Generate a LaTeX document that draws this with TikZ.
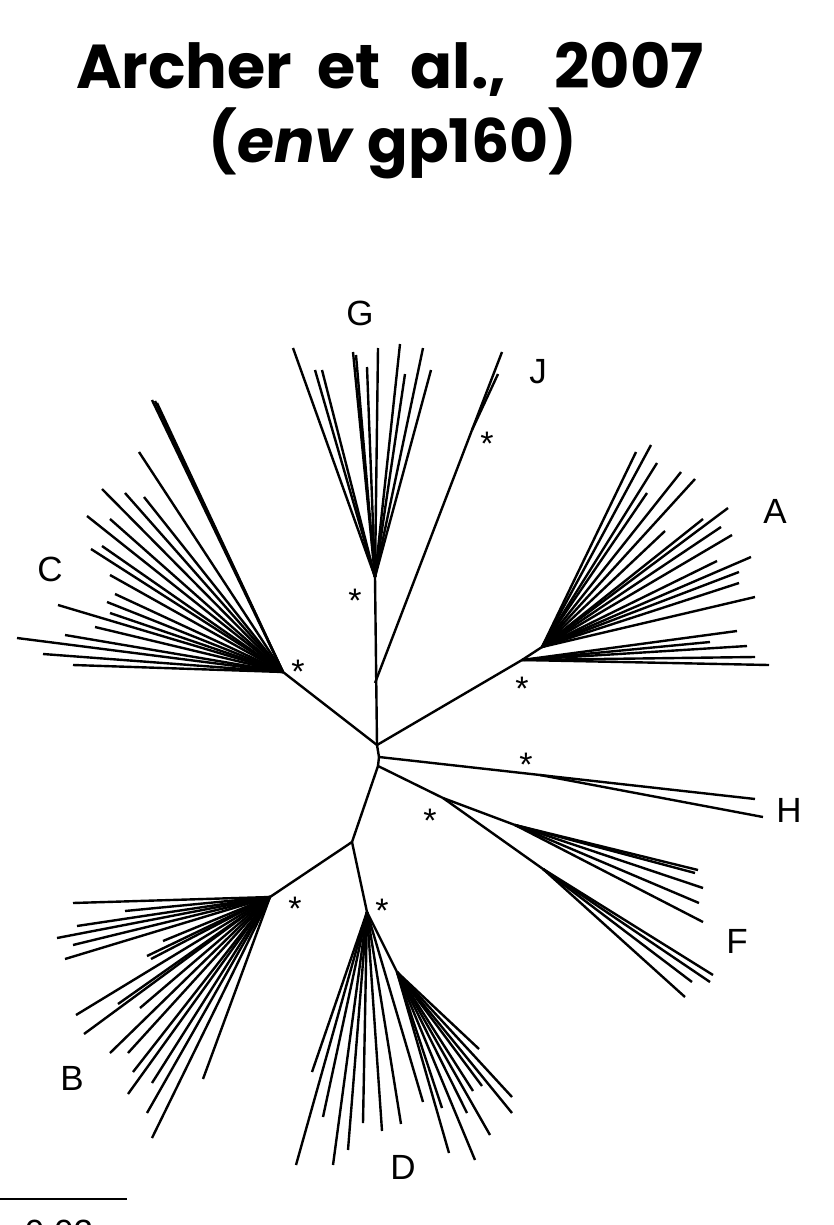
\documentclass[tikz,border=0pt]{standalone}
\usepackage{fontspec}
\setmainfont{Liberation Sans}
\newfontfamily\titlefont{Poppins}
\begin{document}
\begin{tikzpicture}[x=1pt,y=-1pt,
  br/.style={line width=2.4pt, line cap=butt, line join=round},
  lbl/.style={font=\fontsize{35}{35}\selectfont, inner sep=0pt},
  ast/.style={font=\fontsize{34}{34}\selectfont, inner sep=0pt, anchor=north},
  ttl/.style={font=\titlefont\bfseries\fontsize{60}{60}\selectfont, inner sep=0pt, anchor=base}]
\useasboundingbox (0,0) rectangle (833,1225);
\clip (0,0) rectangle (833,1225);
% title
\node[ttl, font=\titlefont\bfseries\fontsize{62}{62}\selectfont] (t1) at (390,89) {Archer\hspace{25pt}et\hspace{30pt}al.,\hspace{48pt}2007};
\node[ttl] (t2) at (393,163) {(\textit{env} gp160)};
% internal nodes
\coordinate (c0) at (377,745);
\coordinate (c1) at (379,757);
\coordinate (c2) at (378,766);
\coordinate (gn) at (375,577);
\coordinate (jn0) at (375,683);
\coordinate (jn) at (472,430);
\coordinate (cn) at (283,672);
\coordinate (an1) at (522,660);
\coordinate (an2) at (542,647);
\coordinate (hn) at (540,775);
\coordinate (fn) at (443,798);
\coordinate (fn1) at (515,825);
\coordinate (fn2) at (543,869);
\coordinate (bd) at (352,842);
\coordinate (bn) at (270,897);
\coordinate (dn) at (367,912);
\coordinate (dn2) at (397,972);
% backbone
\draw[br] (gn) -- (c0) -- (c1) -- (c2);
\draw[br] (jn0) -- (jn);
\draw[br] (c0) -- (cn);
\draw[br] (c0) -- (an1) -- (an2);
\draw[br] (c1) -- (hn);
\draw[br] (c2) -- (fn);
\draw[br] (fn) -- (fn1);
\draw[br] (fn) -- (fn2);
\draw[br] (c2) -- (bd) -- (bn);
\draw[br] (bd) -- (dn) -- (dn2);
% G leaves
\foreach \p in {(293,348),(315,370),(322,370),(353,352),(356,355),(367,367),(378,348),(400,344),(405,374),(423,348),(431,370)}
  \draw[br] (gn) -- \p;
% J leaves
\foreach \p in {(502,352),(498,374)}
  \draw[br] (jn) -- \p;
% C leaves
\foreach \p in {(152,400),(155,401),(157,403),(139,452),(102,489),(125,493),(144,497),(87,516),(110,519),(91,549),(102,546),(110,575),(58,605),(115,594),(107,602),(110,613),(95,627),(65,635),(17,638),(43,654),(73,665)}
  \draw[br] (cn) -- \p;
% A leaves
\foreach \p in {(737,631),(710,642),(747,646),(755,657),(769,665)}
  \draw[br] (an1) -- \p;
\foreach \p in {(636,452),(651,445),(657,463),(647,493),(681,472),(695,479),(665,531),(703,519),(728,508),(721,527),(732,535),(717,561),(751,557),(739,572),(739,583),(755,597)}
  \draw[br] (an2) -- \p;
% H leaves
\foreach \p in {(755,799),(763,817)}
  \draw[br] (hn) -- \p;
% F leaves
\foreach \p in {(698,870),(695,873),(703,888),(699,903),(703,922)}
  \draw[br] (fn1) -- \p;
\foreach \p in {(713,975),(710,982),(692,982),(685,997)}
  \draw[br] (fn2) -- \p;
% B leaves
\foreach \p in {(73,903),(125,911),(77,926),(57,938),(73,945),(65,959),(163,941),(147,956),(151,959),(76,1015),(84,1034),(118,1004),(140,1008),(110,1053),(128,1053),(133,1072),(152,1083),(128,1094),(147,1113),(152,1138),(203,1079)}
  \draw[br] (bn) -- \p;
% D leaves
\foreach \p in {(312,1072),(296,1165),(323,1117),(333,1165),(348,1150),(363,1123),(382,1131),(401,1124),(423,1102)}
  \draw[br] (dn) -- \p;
\foreach \p in {(442,1108),(449,1153),(475,1160),(467,1113),(490,1135),(473,1091),(482,1086),(479,1049),(512,1097),(512,1113)}
  \draw[br] (dn2) -- \p;
% clade labels
\node[lbl] (lG) at (360,313) {G};
\node[lbl] (lJ) at (538,372) {J};
\node[lbl] (lA) at (775,511) {A};
\node[lbl] (lC) at (50,569) {C};
\node[lbl] (lH) at (789,810) {H};
\node[lbl] (lF) at (737,941) {F};
\node[lbl] (lB) at (72,1078) {B};
\node[lbl] (lD) at (403,1167) {D};
% asterisks
\node[ast] (sG) at (355,589) {*};
\node[ast] (sJ) at (487,432) {*};
\node[ast] (sC) at (298,660) {*};
\node[ast] (sA) at (522,677) {*};
\node[ast] (sH) at (526,753) {*};
\node[ast] (sF) at (430,809) {*};
\node[ast] (sB) at (295,897) {*};
\node[ast] (sD) at (382,899) {*};
% scale bar
\coordinate (s0) at (0,1199);
\coordinate (s1) at (127,1199);
\draw[line width=2.6pt] (s0) -- (s1);
\node[lbl] (sl) at (59,1232) {0.02};
\end{tikzpicture}
\end{document}
